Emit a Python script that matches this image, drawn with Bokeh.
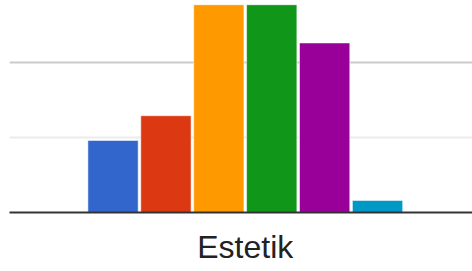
from bokeh.plotting import figure
from bokeh.models import Range1d, FixedTicker
from bokeh.embed import file_html
from bokeh.resources import INLINE

category = "Estetik"
series = ["A", "B", "C", "D", "E", "F"]
values = [9.6, 12.9, 27.7, 27.7, 22.6, 1.6]
colors = ["#3366cc", "#dc3912", "#ff9900", "#109618", "#990099", "#0099c6"]
major_grid = [0, 20]
minor_grid = [10]

xs = list(range(len(series)))

p = figure(width=472, height=271, output_backend="svg", toolbar_location=None,
           x_range=Range1d(-1.957, 6.795), y_range=Range1d(0, 27.73),
           min_border_left=9, min_border_right=0, min_border_top=4, min_border_bottom=59)

p.vbar(x=xs, top=values, width=0.95, bottom=0, fill_color=colors,
       line_color="white", line_alpha=0.5, line_width=1)

p.outline_line_color = None
p.background_fill_color = "white"
p.border_fill_color = "white"
p.yaxis.visible = False
p.xgrid.grid_line_color = None
p.ygrid.ticker = FixedTicker(ticks=major_grid, minor_ticks=minor_grid)
p.ygrid.grid_line_color = "#cccccc"
p.ygrid.grid_line_width = 2
p.ygrid.minor_grid_line_color = "#ebebeb"
p.ygrid.minor_grid_line_width = 2

center = sum(xs) / len(xs)
p.xaxis.ticker = FixedTicker(ticks=[center])
p.xaxis.major_label_overrides = {center: category}
p.xaxis.axis_line_color = "#333333"
p.xaxis.axis_line_width = 2
p.xaxis.major_tick_line_color = None
p.xaxis.minor_tick_line_color = None
p.xaxis.major_label_text_font = "Liberation Sans"
p.xaxis.major_label_text_font_size = "32px"
p.xaxis.major_label_text_color = "#222222"
p.xaxis.major_label_standoff = 10

open("out.html", "w").write(file_html(p, INLINE))
